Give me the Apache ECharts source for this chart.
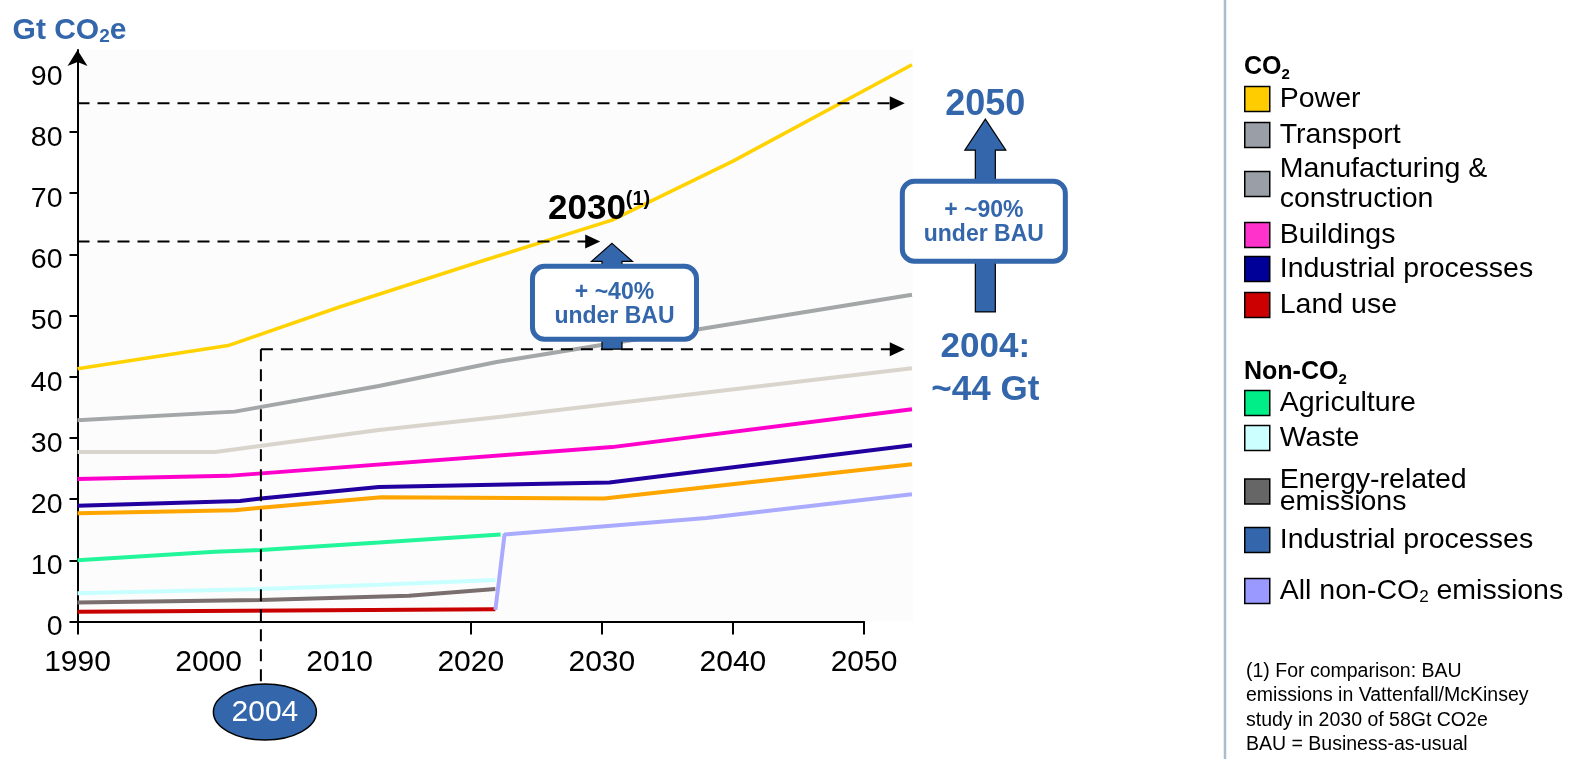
<!DOCTYPE html>
<html>
<head>
<meta charset="utf-8">
<title>Gt CO2e</title>
<script src="https://cdn.jsdelivr.net/npm/echarts@6/dist/echarts.min.js"></script>
<style>
  html, body { margin: 0; padding: 0; background: #fff; }
  #main { width: 1575px; height: 759px; }
</style>
</head>
<body>
<div id="main"></div>
<script>
const chart = echarts.init(document.getElementById('main'));
const FONT = "'Liberation Sans', Arial, sans-serif";
const BLUE = '#3366AA';

// axis labels and ticks
const yearLabels = [1990, 2000, 2010, 2020, 2030, 2040, 2050];
const yearTicks = [1990, 2020, 2030, 2040, 2050];
const valueLabels = [0, 10, 20, 30, 40, 50, 60, 70, 80, 90];
const valueTicks = [0, 10, 20, 30, 40, 50, 60, 70, 80];

// CO2 lines  [year, Gt]
const power = [[1990, 41.3], [2001.5, 45.1], [2010, 51.4], [2020.7, 58.8], [2030.8, 65.6], [2040, 75.2], [2053.7, 91.0]];
const transport = [[1990, 32.9], [2002, 34.3], [2013, 38.5], [2022, 42.4], [2030, 45.2], [2053.7, 53.4]];
const manufacturing = [[1990, 27.7], [2000.5, 27.7], [2013, 31.3], [2022.5, 33.5], [2053.7, 41.4]];
const buildings = [[1990, 23.3], [2001.5, 23.8], [2030.8, 28.5], [2053.7, 34.7]];
const industrial = [[1990, 18.9], [2002.4, 19.7], [2004, 20.1], [2013, 22.0], [2030.6, 22.7], [2053.7, 28.8]];
const otherCo2 = [[1990, 17.7], [2002, 18.2], [2004, 18.6], [2013.2, 20.3], [2030.2, 20.1], [2053.7, 25.7]];
const landUse = [[1990, 1.6], [2021.9, 2.0]];

// non-CO2 lines
const agriculture = [[1990, 10.0], [2000.5, 11.4], [2004, 11.7], [2013, 12.9], [2022.3, 14.2]];
const waste = [[1990, 4.6], [2004, 5.3], [2013, 6.0], [2021.9, 6.8]];
const energyRelated = [[1990, 3.1], [2004, 3.5], [2015.3, 4.2], [2021.9, 5.3]];
const industrialNonCo2 = [];
const allNonCo2 = [[2021.9, 1.9], [2022.6, 14.2], [2029.8, 15.5], [2038, 16.9], [2053.7, 20.8]];

// reference levels for the annotations
const level2050 = 84.7;
const level2030 = 62.1;
const level2004 = 44.5;

const lines = [
    { name: 'Power', data: power, color: '#FFD200', width: 3.5 },
    { name: 'Transport', data: transport, color: '#A3A7A8', width: 4 },
    { name: 'Manufacturing & construction', data: manufacturing, color: '#D9D5CD', width: 4 },
    { name: 'Buildings', data: buildings, color: '#FF00CC', width: 4 },
    { name: 'Industrial processes', data: industrial, color: '#2200A0', width: 4 },
    { name: 'Other', data: otherCo2, color: '#FFA500', width: 4 },
    { name: 'Agriculture', data: agriculture, color: '#22F59A', width: 4 },
    { name: 'Waste', data: waste, color: '#C8FFFF', width: 4 },
    { name: 'Energy-related emissions', data: energyRelated, color: '#7A6E6E', width: 4 },
    { name: 'Land use', data: landUse, color: '#C80000', width: 4 },
    { name: 'Industrial processes (non-CO2)', data: industrialNonCo2, color: '#3366AA', width: 4 },
    { name: 'All non-CO2 emissions', data: allNonCo2, color: '#AAAAFF', width: 4 }
];

// legend entries (icon colour and label)
const legendRows = [
    { name: 'Power', icon: '#FFCC00', label: 'Power' },
    { name: 'Transport', icon: '#9A9EA6', label: 'Transport' },
    { name: 'Manufacturing & construction', icon: '#9A9EA6', label: 'Manufacturing &\nconstruction' },
    { name: 'Buildings', icon: '#FF33CC', label: 'Buildings' },
    { name: 'Industrial processes', icon: '#000099', label: 'Industrial processes' },
    { name: 'Land use', icon: '#CC0000', label: 'Land use' },
    { name: 'Agriculture', icon: '#00EE88', label: 'Agriculture' },
    { name: 'Waste', icon: '#CCFFFF', label: 'Waste' },
    { name: 'Energy-related emissions', icon: '#666666', label: 'Energy-related\nemissions' },
    { name: 'Industrial processes (non-CO2)', icon: '#3366AA', label: 'Industrial processes' },
    { name: 'All non-CO2 emissions', icon: '#9999FF', label: '{t|All non-CO}{s|2}{t| emissions}' }
];
// legend layout: top of each row and its line height
const legendTops = [84, 120, 154, 220, 254, 290, 388, 423, 466, 525, 576];
const legendLineHeights = [30, 30, 30, 30, 30, 30, 30, 30, 22, 30, 30];

const subRich = (size, subSize, weight, color) => ({
    t: { fontSize: size, fontWeight: weight, color: color, fontFamily: FONT, lineHeight: 30 },
    s: { fontSize: subSize, fontWeight: weight, color: color, fontFamily: FONT, lineHeight: 12, verticalAlign: 'bottom' }
});

const legends = legendRows.map((row, i) => ({
    orient: 'vertical',
    left: 1244,
    top: legendTops[i],
    padding: 0,
    itemWidth: 25,
    itemHeight: 25,
    icon: 'rect',
    selectedMode: false,
    data: [{ name: row.name, itemStyle: { color: row.icon, borderColor: '#000', borderWidth: 1.5 } }],
    formatter: () => row.label,
    textStyle: {
        fontSize: 28.5, color: '#000', fontFamily: FONT,
        lineHeight: legendLineHeights[i], padding: [0, 0, 0, 5],
        rich: subRich(28.5, 17, 'normal', '#000')
    }
}));

const option = {
    animation: false,
    backgroundColor: '#fff',
    textStyle: { fontFamily: FONT },
    title: [
        { text: '{t|CO}{s|2}', left: 1244, top: 52, padding: 0,
          textStyle: { rich: subRich(25, 15, 'bold', '#000') } },
        { text: '{t|Non-CO}{s|2}', left: 1244, top: 357, padding: 0,
          textStyle: { rich: subRich(25, 15, 'bold', '#000') } },
        { text: '(1) For comparison: BAU\nemissions in Vattenfall/McKinsey\nstudy in 2030 of 58Gt CO2e\nBAU = Business-as-usual',
          left: 1246, top: 659, padding: 0,
          textStyle: { fontSize: 19.5, fontWeight: 'normal', color: '#000', lineHeight: 24.5, fontFamily: FONT } }
    ],
    legend: legends,
    grid: [
        // data area
        { left: 77.5, top: 50, width: 835.5, height: 571.5, show: true, backgroundColor: '#FCFCFC', borderWidth: 0, outerBoundsMode: 'none' },
        // x axis, ends at 2050
        { left: 77.5, top: 50, width: 786.5, height: 571.5, outerBoundsMode: 'none' },
        // y tick labels, sitting a little below their ticks
        { left: 77.5, top: 56, width: 786.5, height: 571.5, outerBoundsMode: 'none' }
    ],
    xAxis: [
        { gridIndex: 0, type: 'value', min: 1990, max: 1990 + 835.5 / 13.1, show: false },
        {
            gridIndex: 1, type: 'value', min: 1990, max: 2050,
            axisLine: { show: true, lineStyle: { color: '#000', width: 2 } },
            axisTick: { show: true, customValues: yearTicks, length: 13, lineStyle: { color: '#000', width: 2 } },
            axisLabel: { customValues: yearLabels, formatter: v => String(v), fontSize: 30, color: '#000', margin: 26, fontFamily: FONT },
            splitLine: { show: false }
        },
        { gridIndex: 2, type: 'value', min: 1990, max: 2050, show: false }
    ],
    yAxis: [
        {
            gridIndex: 0, type: 'value', min: 0, max: 93.4,
            name: '{t|Gt CO}{s|2}{t|e}',
            nameLocation: 'end',
            nameGap: 4,
            nameTextStyle: { padding: [0, 16, 0, 0], rich: subRich(30, 19, 'bold', BLUE) },
            axisLine: { show: true, symbol: ['none', 'arrow'], symbolSize: [15, 16], lineStyle: { color: '#000', width: 2 } },
            axisTick: { show: true, customValues: valueTicks, length: 8, lineStyle: { color: '#000', width: 2 } },
            axisLabel: { show: false },
            splitLine: { show: false }
        },
        { gridIndex: 1, type: 'value', min: 0, max: 93.4, show: false },
        {
            gridIndex: 2, type: 'value', min: 0, max: 93.4,
            axisLine: { show: false },
            axisTick: { show: false },
            axisLabel: { customValues: valueLabels, fontSize: 28.5, color: '#000', margin: 15, fontFamily: FONT },
            splitLine: { show: false }
        }
    ],
    series: lines.map(l => ({
        name: l.name,
        type: 'line',
        xAxisIndex: 0,
        yAxisIndex: 0,
        data: l.data,
        showSymbol: false,
        symbol: 'none',
        color: l.color,
        lineStyle: { color: l.color, width: l.width },
        silent: true
    }))
};

chart.setOption(option);

// annotations placed from the chart's own scale
function buildAnnotations() {
    const p = (x, y) => chart.convertToPixel({ gridIndex: 0 }, [x, y]);
    const els = [];
    const dash = { stroke: '#000', lineWidth: 2, lineDash: [12, 8] };

    function dashedArrow(x0, x1, y) {
        const a = p(x0, y), b = p(x1, y);
        els.push({ type: 'line', z: 50, shape: { x1: a[0], y1: a[1], x2: b[0] - 12, y2: b[1] }, style: dash });
        els.push({ type: 'polygon', z: 50, shape: { points: [[b[0], b[1]], [b[0] - 15, b[1] - 7], [b[0] - 15, b[1] + 7]] }, style: { fill: '#000' } });
    }

    function fatArrow(x, yTop, yBottom, headH) {
        const t = p(x, yTop), b = p(x, yBottom);
        const cx = t[0];
        els.push({
            type: 'polygon', z: 60,
            shape: { points: [[cx, t[1]], [cx + 20.5, t[1] + headH], [cx + 10, t[1] + headH], [cx + 10, b[1]],
                              [cx - 10, b[1]], [cx - 10, t[1] + headH], [cx - 20.5, t[1] + headH]] },
            style: { fill: BLUE, stroke: '#000', lineWidth: 1.2 }
        });
        return [cx, t[1], b[1]];
    }

    function box(cx, top, w, h, text) {
        els.push({ type: 'rect', z: 70, shape: { x: cx - w / 2, y: top, width: w, height: h, r: 12 },
                   style: { fill: '#fff', stroke: BLUE, lineWidth: 5 } });
        els.push({ type: 'text', z: 71, x: cx, y: top + h / 2 + 2,
                   style: { text: text, fill: BLUE, fontSize: 23, fontWeight: 'bold', fontFamily: FONT,
                            lineHeight: 24, align: 'center', verticalAlign: 'middle' } });
    }

    dashedArrow(1990, 2053.15, level2050);
    dashedArrow(1990, 2029.9, level2030);
    dashedArrow(2004, 2053.15, level2004);

    // vertical 2004 marker down to the ellipse
    const v = p(2004, level2004);
    const axisY = p(1990, 0)[1];
    els.push({ type: 'line', z: 50, shape: { x1: v[0], y1: v[1], x2: v[0], y2: axisY + 62 }, style: dash });
    els.push({ type: 'ellipse', z: 60, shape: { cx: v[0] + 4, cy: axisY + 90.5, rx: 51.5, ry: 28 },
               style: { fill: BLUE, stroke: '#000', lineWidth: 1.5 } });
    els.push({ type: 'text', z: 61, x: v[0] + 4, y: axisY + 91,
               style: { text: '2004', fill: '#fff', fontSize: 30, fontFamily: FONT, align: 'center', verticalAlign: 'middle' } });

    // 2030 arrow and box
    const a1 = fatArrow(2030.8, 61.8, level2004, 18);
    box(a1[0] + 2.5, a1[1] + 23, 164, 73, '+ ~40%\nunder BAU');
    els.push({ type: 'text', z: 61, x: a1[0] - 64, y: a1[1] - 34,
               style: { text: '{a|2030}{b|(1)}', fontFamily: FONT, align: 'left', verticalAlign: 'middle',
                        rich: { a: { fontSize: 35, fontWeight: 'bold', fill: '#000', lineHeight: 40, fontFamily: FONT },
                                b: { fontSize: 20, fontWeight: 'bold', fill: '#000', lineHeight: 24, verticalAlign: 'top', fontFamily: FONT } } } });

    // 2050 arrow and box
    const a2 = fatArrow(2059.3, 82.1, 50.6, 31);
    box(a2[0] - 1.5, a2[1] + 62, 163, 80, '+ ~90%\nunder BAU');
    els.push({ type: 'text', z: 61, x: a2[0], y: a2[1] - 14,
               style: { text: '2050', fill: BLUE, fontSize: 36, fontWeight: 'bold', fontFamily: FONT, align: 'center', verticalAlign: 'middle' } });
    els.push({ type: 'text', z: 61, x: a2[0], y: a2[2] + 57,
               style: { text: '2004:\n~44 Gt', fill: BLUE, fontSize: 35, fontWeight: 'bold', fontFamily: FONT,
                        lineHeight: 43.5, align: 'center', verticalAlign: 'middle' } });

    // divider between chart and legend
    els.push({ type: 'line', z: 10, shape: { x1: 1225, y1: 0, x2: 1225, y2: 759 }, style: { stroke: '#A9BDCB', lineWidth: 2.5 } });
    return els;
}

chart.setOption({ graphic: buildAnnotations() });
</script>
</body>
</html>
